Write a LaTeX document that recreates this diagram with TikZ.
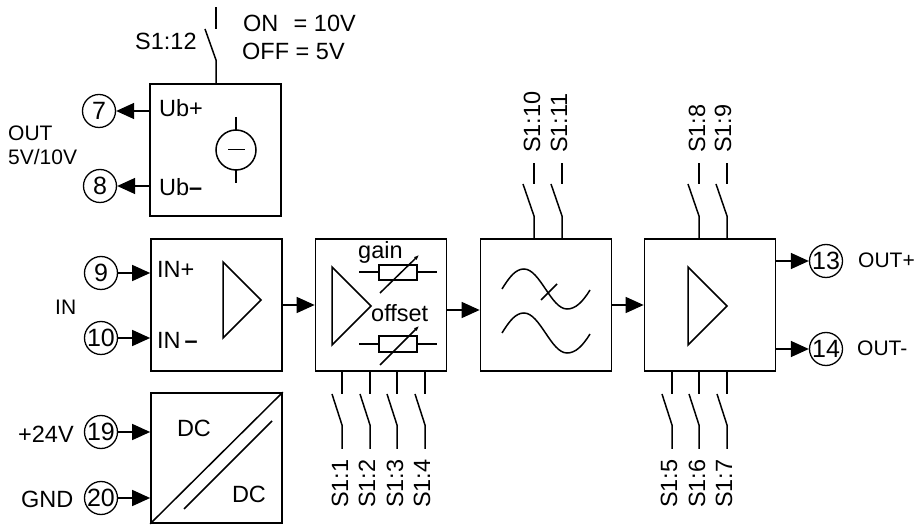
\documentclass[tikz,border=0pt]{standalone}
\usepackage{fontspec}
\setmainfont{Liberation Sans}
\usetikzlibrary{arrows.meta}
\newcommand{\bigtxt}{\fontsize{23.5}{26}\selectfont}
\tikzset{
  x=1pt,y=-1pt,
  every node/.style={font=\fontsize{21}{24}\selectfont,inner sep=0pt},
  wire/.style={line width=1.5pt},
  block/.style={draw,line width=1.7pt,minimum width=131pt,minimum height=132pt},
  term/.style={draw,circle,line width=1.3pt,minimum size=33pt,font=\fontsize{25}{26}\selectfont},
  flow/.style={line width=1.5pt,-{Triangle[length=18pt,width=16pt]}},
  adj/.style={line width=1.5pt,-{Latex[length=5pt,width=4pt]}},
  lab/.style={anchor=base west},
  labb/.style={anchor=base west,font=\bigtxt},
  sw/.style={rotate=90,anchor=west,font=\bigtxt}
}
\newcommand{\swbot}[2]{%
  \coordinate (kx) at (#2,0);
  \draw[wire] (#1.south -| kx) -- (#2,394);
  \draw[wire] ({#2-10},394) -- (#2,425) -- (#2,449);}
\newcommand{\swtop}[2]{%
  \coordinate (kx) at (#2,0);
  \draw[wire] (#1.north -| kx) -- (#2,216) -- ({#2-11},184);
  \draw[wire] (#2,184) -- (#2,163);}
\begin{document}
\begin{tikzpicture}
\useasboundingbox (0,0) rectangle (914,526);
% blocks
\node[block] (sup) at (215.5,150) {};
\node[block] (inp) at (216.5,305) {};
\node[block,minimum height=130pt] (dc) at (216.5,458) {};
\node[block] (gain) at (381,305) {};
\node[block] (filt) at (546,305) {};
\node[block] (amp) at (710,305) {};
% terminals
\node[term] (t7) at (99,111) {7};
\node[term] (t8) at (100,186) {8};
\node[term] (t9) at (101,273) {9};
\node[term] (t10) at (101,338) {10};
\node[term] (t19) at (101,432) {19};
\node[term] (t20) at (101,498) {20};
\node[term] (t13) at (826,261) {13};
\node[term] (t14) at (826,349) {14};
% terminal connectors
\draw[flow] (sup.west |- t7) -- (t7);
\draw[flow] (sup.west |- t8) -- (t8);
\draw[flow] (t9) -- (inp.west |- t9);
\draw[flow] (t10) -- (inp.west |- t10);
\draw[flow] (t19) -- (dc.west |- t19);
\draw[flow] (t20) -- (dc.west |- t20);
\draw[flow] (amp.east |- t13) -- (t13);
\draw[flow] (amp.east |- t14) -- (t14);
% block connectors
\draw[flow] (inp.east) -- (gain.west);
\coordinate (gf) at (0,310);
\draw[flow] (gain.east |- gf) -- (filt.west |- gf);
\draw[flow] (filt.east) -- (amp.west);
% labels
\node[labb] (l1) at (135,50) {S1:12};
\node[labb] (l2) at (243,32) {ON\hspace{.65em}= 10V};
\node[labb] (l3) at (242,60) {OFF = 5V};
\node[lab] (l4) at (8,141) {OUT};
\node[lab] (l5) at (8,165) {5V/10V};
\node[labb] (l6) at (159,117) {Ub+};
\node[labb] (l7) at (159,196) {Ub\textbf{–}};
\node[labb] (l8) at (157,278) {IN+};
\node[labb] (l9) at (157,349) {IN\,\textbf{–}};
\node[lab] (l10) at (55,315) {IN};
\node[labb] (l11) at (18,443) {+24V};
\node[labb] (l12) at (21,508) {GND};
\node[anchor=base,font=\bigtxt] (l13) at (194,437) {DC};
\node[anchor=base,font=\bigtxt] (l14) at (249,503) {DC};
\node[labb] (l15) at (358,259) {gain};
\node[labb] (l16) at (371,322) {offset};
\node[lab] (l17) at (858,268) {OUT+};
\node[lab] (l18) at (857,356) {OUT-};
% switch labels
\node[sw] (s1) at (340,508) {S1:1};
\node[sw] (s2) at (367,508) {S1:2};
\node[sw] (s3) at (395,508) {S1:3};
\node[sw] (s4) at (422,508) {S1:4};
\node[sw] (s5) at (669,508) {S1:5};
\node[sw] (s6) at (697,508) {S1:6};
\node[sw] (s7) at (724,508) {S1:7};
\node[sw] (s8) at (697,153) {S1:8};
\node[sw] (s9) at (723,153) {S1:9};
\node[sw] (s10) at (532,153) {S1:10};
\node[sw] (s11) at (559,153) {S1:11};
% switches
\swbot{gain}{342}\swbot{gain}{370}\swbot{gain}{397}\swbot{gain}{425}
\swbot{amp}{672}\swbot{amp}{699}\swbot{amp}{727}
\swtop{filt}{534}\swtop{filt}{562}
\swtop{amp}{699}\swtop{amp}{727}
\coordinate (k216) at (216,0);
\draw[wire] (sup.north -| k216) -- (216,60) -- (205,29);
\draw[wire] (216,29) -- (216,7);
% voltage source
\draw[wire] (236,150) circle (20);
\draw[wire] (236,117) -- (236,130) (236,170) -- (236,183);
\draw[line width=1pt] (228,150) -- (245,150);
% amplifier triangles
\draw[wire,line join=miter] (223,262) -- (223,338) -- (261,300) -- cycle;
\draw[wire] (332,267) -- (332,345) -- (371,306) -- cycle;
\draw[wire] (688,267) -- (688,345) -- (727,306) -- cycle;
% adjustable resistors
\draw[wire] (379,265) rectangle (417,280);
\draw[wire] (359,272) -- (379,272) (417,272) -- (437,272);
\draw[adj] (380,293) -- (419,255);
\draw[wire] (379,336) rectangle (417,352);
\draw[wire] (359,344) -- (379,344) (417,344) -- (437,344);
\draw[adj] (380,365) -- (419,326);
% filter curves
\draw[wire] (502,289) .. controls (510,276) and (516,269) .. (524,269) .. controls (540,269) and (551,309) .. (567,309) .. controls (575,309) and (582,303) .. (590,290);
\draw[wire] (502,333) .. controls (510,320) and (516,313) .. (524,313) .. controls (540,313) and (551,353) .. (567,353) .. controls (575,353) and (582,347) .. (590,334);
\draw[wire] (541,300) -- (557,284);
% DC-DC
\draw[wire] (dc.south west) -- (dc.north east);
\draw[wire] (184,509) -- (272,421);
\end{tikzpicture}
\end{document}
